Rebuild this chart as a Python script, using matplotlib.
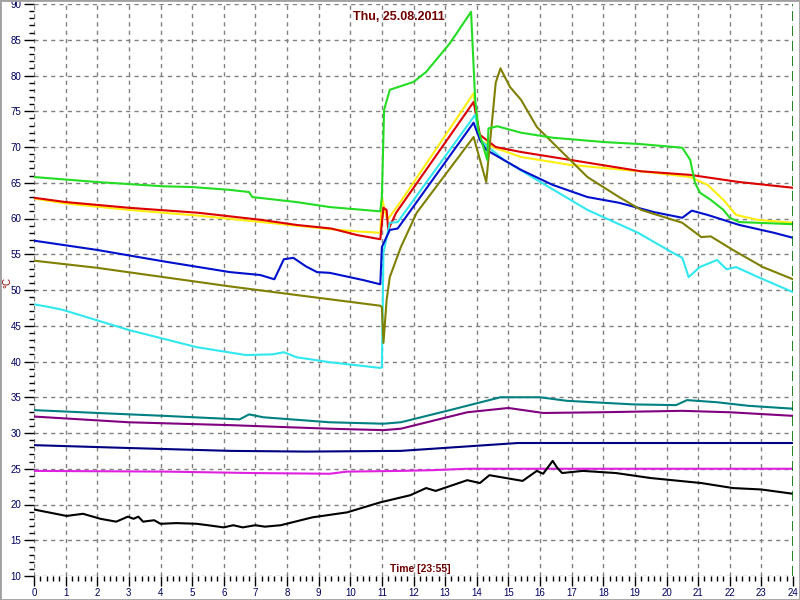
import matplotlib
matplotlib.use('Agg')
import matplotlib.pyplot as plt
from matplotlib.patches import Rectangle
from matplotlib.ticker import MultipleLocator

plt.rcParams['font.family'] = ['Liberation Sans', 'DejaVu Sans']

# hours / temperatures
green_x = [0, 2, 4.1, 5, 6.2, 6.8, 6.9, 8.3, 9.35, 10.95, 11.0, 11.07, 11.25, 12.0, 12.4, 13.15, 13.82,
           13.95, 14.05, 14.33, 14.37, 14.65, 15.4, 16.4, 18.0, 19.2, 20.5, 20.75, 20.9, 21.06, 21.4,
           21.8, 22.0, 22.3, 22.9, 24]
green_y = [65.8, 65.1, 64.5, 64.4, 64.0, 63.7, 63.0, 62.3, 61.6, 61.0, 63.0, 75.2, 78.0, 79.1, 80.5, 84.5, 88.9,
           76.6, 72.4, 68.2, 72.6, 72.9, 72.0, 71.3, 70.7, 70.4, 69.9, 68.2, 65.0, 63.6, 62.6,
           61.2, 60.1, 59.5, 59.4, 59.2]

yellow_x = [0, 1, 3, 5.2, 7.2, 8.3, 9.4, 10.2, 10.95, 11.0, 11.17, 11.57, 12.85, 13.9, 14.1, 14.5, 15.4,
            16.95, 19.4, 20.75, 21.3, 21.8, 22.2, 22.9, 24]
yellow_y = [62.8, 62.1, 61.2, 60.4, 59.5, 59.0, 58.5, 58.2, 58.0, 62.9, 59.8, 62.2, 70.6, 77.5, 71.0, 70.0, 68.6,
            67.5, 66.5, 65.8, 64.7, 62.6, 60.5, 59.8, 59.4]

red_x = [0, 1, 3, 5.2, 7.2, 8.3, 9.4, 10.2, 10.95, 11.05, 11.15, 11.2, 11.45, 13.9, 14.1, 14.6, 15.4,
         16.95, 19.2, 20.75, 22.3, 24]
red_y = [62.9, 62.3, 61.5, 60.8, 59.8, 59.1, 58.6, 57.7, 57.1, 61.5, 61.2, 58.4, 60.8, 76.3, 71.7, 70.0, 69.3,
         68.2, 66.6, 66.1, 65.1, 64.3]

blue_x = [0, 2, 4.1, 6.2, 7.15, 7.6, 7.9, 8.2, 8.6, 8.95, 9.35, 10.4, 10.95, 11.0, 11.25, 11.5, 13.9,
          14.1, 14.3, 15.4, 16.4, 17.5, 18.5, 19.6, 20.5, 20.8, 21.3, 22.3, 23.4, 24]
blue_y = [56.9, 55.6, 54.0, 52.5, 52.1, 51.5, 54.3, 54.5, 53.3, 52.5, 52.4, 51.4, 50.8, 56.0, 58.4, 58.6, 73.4,
          71.0, 69.6, 66.8, 64.7, 63.0, 62.2, 60.9, 60.1, 61.1, 60.5, 59.1, 58.0, 57.3]

olive_x = [0, 2, 6.2, 8.3, 10.95, 11.0, 11.05, 11.15, 11.25, 11.6, 12.1, 13.9, 14.3, 14.6, 14.75, 15.05,
           15.4, 15.9, 16.4, 16.95, 17.5, 18.5, 19.2, 20.5, 21.1, 21.4, 22.1, 23.05, 24]
olive_y = [54.1, 53.1, 50.5, 49.3, 47.8, 47.6, 42.6, 48.6, 51.8, 56.0, 60.8, 71.4, 65.1, 79.0, 81.0, 78.4,
           76.6, 72.8, 70.6, 68.2, 65.8, 63.0, 61.2, 59.4, 57.4, 57.5, 55.6, 53.2, 51.5]

cyan_x = [0, 0.5, 0.93, 3, 5.15, 6.7, 7.55, 7.9, 8.3, 9.35, 10.95, 11.0, 11.05, 11.25, 11.5, 13.95, 14.1,
          14.85, 15.9, 17.5, 19.1, 20.2, 20.5, 20.7, 21.05, 21.6, 21.9, 22.2, 22.9, 24]
cyan_y = [48.0, 47.6, 47.2, 44.4, 42.0, 40.9, 41.0, 41.3, 40.6, 39.9, 39.1, 39.2, 55.2, 59.4, 59.5, 74.5, 71.0,
          68.2, 65.4, 61.2, 58.0, 55.2, 54.5, 51.8, 53.2, 54.2, 52.9, 53.2, 51.8, 49.7]

teal_x = [0, 2, 4.1, 6.5, 6.8, 7.25, 9.35, 11.05, 11.6, 13.15, 14.75, 16.0, 16.85, 18.95, 20.3, 20.65,
          21.6, 22.6, 24]
teal_y = [33.2, 32.8, 32.4, 31.9, 32.6, 32.2, 31.5, 31.3, 31.5, 33.2, 35.0, 35.0, 34.5, 34.0, 33.9, 34.6,
          34.3, 33.8, 33.4]

purple_x = [0, 3, 6.2, 9.35, 11.05, 11.6, 13.7, 15.0, 16.1, 17.9, 20.5, 22, 24]
purple_y = [32.3, 31.5, 31.1, 30.6, 30.4, 30.6, 32.9, 33.5, 32.8, 32.9, 33.1, 32.9, 32.4]

navy_x = [0, 3, 6.2, 8.6, 11.6, 15.3, 24]
navy_y = [28.3, 27.9, 27.5, 27.4, 27.5, 28.6, 28.6]

magenta_x = [0, 4.2, 6.9, 9.35, 9.9, 11.6, 12.6, 13.7, 24]
magenta_y = [24.7, 24.6, 24.4, 24.3, 24.6, 24.7, 24.8, 25.0, 25.0]

black_x = [0, 1.03, 1.55, 2.1, 2.6, 2.97, 3.15, 3.3, 3.45, 3.8, 4.0, 4.5, 5.15, 5.5, 6.0, 6.3, 6.6, 7.0,
           7.3, 7.8, 8.8, 9.9, 10.95, 11.9, 12.4, 12.7, 13.7, 14.1, 14.4, 15.45, 15.9, 16.1, 16.4, 16.55,
           16.7, 17.35, 18.4, 19.5, 21.1, 22.1, 23.0, 24]
black_y = [19.3, 18.4, 18.7, 18.0, 17.6, 18.3, 18.0, 18.3, 17.6, 17.8, 17.3, 17.4, 17.3, 17.1, 16.8, 17.1, 16.8, 17.1,
           16.9, 17.1, 18.2, 18.9, 20.3, 21.3, 22.3, 21.9, 23.4, 23.0, 24.1, 23.3, 24.7, 24.3, 26.1, 25.1,
           24.4, 24.7, 24.4, 23.7, 23.0, 22.3, 22.1, 21.5]

series = [
    (yellow_x, yellow_y, '#ffee10'),
    (red_x, red_y, '#dd0000'),
    (cyan_x, cyan_y, '#30e8f0'),
    (blue_x, blue_y, '#0010cc'),
    (olive_x, olive_y, '#808000'),
    (green_x, green_y, '#22dd22'),
    (teal_x, teal_y, '#008080'),
    (purple_x, purple_y, '#800080'),
    (navy_x, navy_y, '#000080'),
    (magenta_x, magenta_y, '#e020e0'),
    (black_x, black_y, '#000000'),
]

fig = plt.figure(figsize=(8, 6), dpi=100)
ax = fig.add_axes([34/800, 24/600, 759/800, 572/600])

for xs, ys, col in series:
    ax.plot(xs, ys, color=col, lw=1.5)

ax.axvline(24, color='#007000', lw=1.2, linestyle=(0, (6, 3)))

ax.set_xlim(0, 24)
ax.set_ylim(10, 90)
ax.xaxis.set_major_locator(MultipleLocator(1))
ax.xaxis.set_minor_locator(MultipleLocator(0.2))
ax.yaxis.set_major_locator(MultipleLocator(5))
ax.yaxis.set_minor_locator(MultipleLocator(1))

ax.grid(True, which='major', linestyle=(0, (3, 3)), color='#808080', lw=1)
for gl in [ax.xaxis.get_gridlines()[0], ax.xaxis.get_gridlines()[-1],
           ax.yaxis.get_gridlines()[0], ax.yaxis.get_gridlines()[-1]]:
    gl.set_visible(False)

for s in ax.spines.values():
    s.set_visible(False)
ax.tick_params(which='major', length=7, width=1, direction='out', labelsize=7, labelcolor='#000060', pad=2)
ax.tick_params(which='minor', length=3.5, width=1, direction='out')

ax.text(0.481, 0.977, 'Thu, 25.08.2011', transform=ax.transAxes, ha='center', va='center',
        fontsize=9, fontweight='bold', color='#700000')
ax.text(0.509, 0.012, 'Time [23:55]', transform=ax.transAxes, ha='center', va='center',
        fontsize=7.5, fontweight='bold', color='#700000')
fig.text(7/800, 1 - 283/600, '°C', rotation=90, ha='center', va='center', fontsize=7, color='#900000')

fig.patches.append(Rectangle((0, 0), 1, 1, transform=fig.transFigure, fill=False,
                             edgecolor='#a0a0a0', lw=2))

fig.savefig('out.png', dpi=100)
